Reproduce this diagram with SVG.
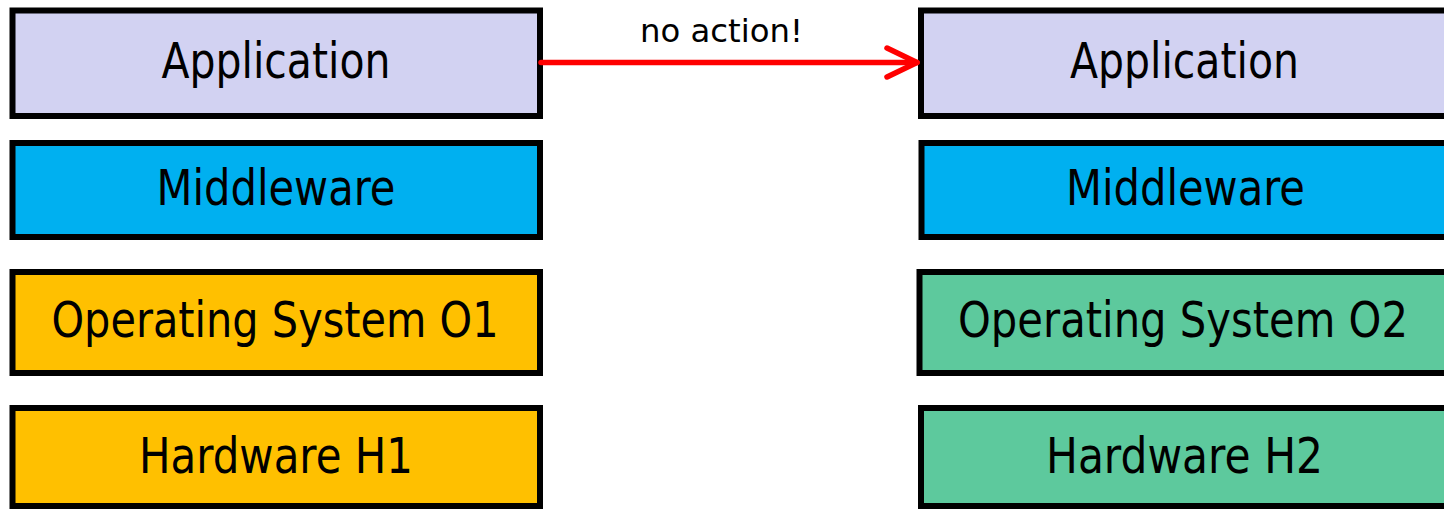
<svg xmlns="http://www.w3.org/2000/svg" width="1444" height="510" viewBox="0 0 1444 510">
  <style>
    .box { stroke: #000; stroke-width: 6; }
    .app { fill: #D2D2F2; }
    .mw { fill: #00B0F0; }
    .o1 { fill: #FFC000; }
    .o2 { fill: #5DC99D; }
    .lbl { font-family: "DejaVu Sans", Verdana, sans-serif; font-size: 50px; fill: #000; text-anchor: middle; }
    .note { font-family: "DejaVu Sans", Verdana, sans-serif; font-size: 32px; fill: #000; text-anchor: middle; }
    .link { stroke: #FF0000; stroke-width: 5.5; fill: none; stroke-linecap: round; stroke-linejoin: round; }
  </style>
  <rect width="1444" height="510" fill="#fff"/>

  <!-- left stack -->
  <g id="app-left">
    <rect class="box app" x="12.5" y="10.5" width="527.5" height="105.5"/>
    <text class="lbl" x="276" y="78" textLength="229" lengthAdjust="spacingAndGlyphs">Application</text>
  </g>
  <g id="mw-left">
    <rect class="box mw" x="12.5" y="143" width="527.5" height="94"/>
    <text class="lbl" x="276" y="205" textLength="239" lengthAdjust="spacingAndGlyphs">Middleware</text>
  </g>
  <g id="os-left">
    <rect class="box o1" x="12.5" y="272" width="527.5" height="101"/>
    <text class="lbl" x="275" y="337" textLength="447" lengthAdjust="spacingAndGlyphs">Operating System O1</text>
  </g>
  <g id="hw-left">
    <rect class="box o1" x="12.5" y="408" width="527.5" height="98"/>
    <text class="lbl" x="276" y="473" textLength="274" lengthAdjust="spacingAndGlyphs">Hardware H1</text>
  </g>

  <!-- right stack (runs past the right edge) -->
  <g id="app-right">
    <rect class="box app" x="921" y="10.5" width="527.5" height="105.5"/>
    <text class="lbl" x="1184.5" y="78" textLength="229" lengthAdjust="spacingAndGlyphs">Application</text>
  </g>
  <g id="mw-right">
    <rect class="box mw" x="921.5" y="143" width="527.5" height="94"/>
    <text class="lbl" x="1185.5" y="205" textLength="239" lengthAdjust="spacingAndGlyphs">Middleware</text>
  </g>
  <g id="os-right">
    <rect class="box o2" x="919.5" y="272" width="527.5" height="101"/>
    <text class="lbl" x="1183" y="337" textLength="450" lengthAdjust="spacingAndGlyphs">Operating System O2</text>
  </g>
  <g id="hw-right">
    <rect class="box o2" x="921" y="408" width="527.5" height="98"/>
    <text class="lbl" x="1184.5" y="473" textLength="277" lengthAdjust="spacingAndGlyphs">Hardware H2</text>
  </g>

  <!-- connectors -->
  <g id="connectors">
    <path class="link" d="M541 62.5 H917"/>
    <path class="link" d="M887 48 L917 62.5 L887 77"/>
    <text class="note" x="721.5" y="42" textLength="163" lengthAdjust="spacingAndGlyphs">no action!</text>
  </g>
</svg>
